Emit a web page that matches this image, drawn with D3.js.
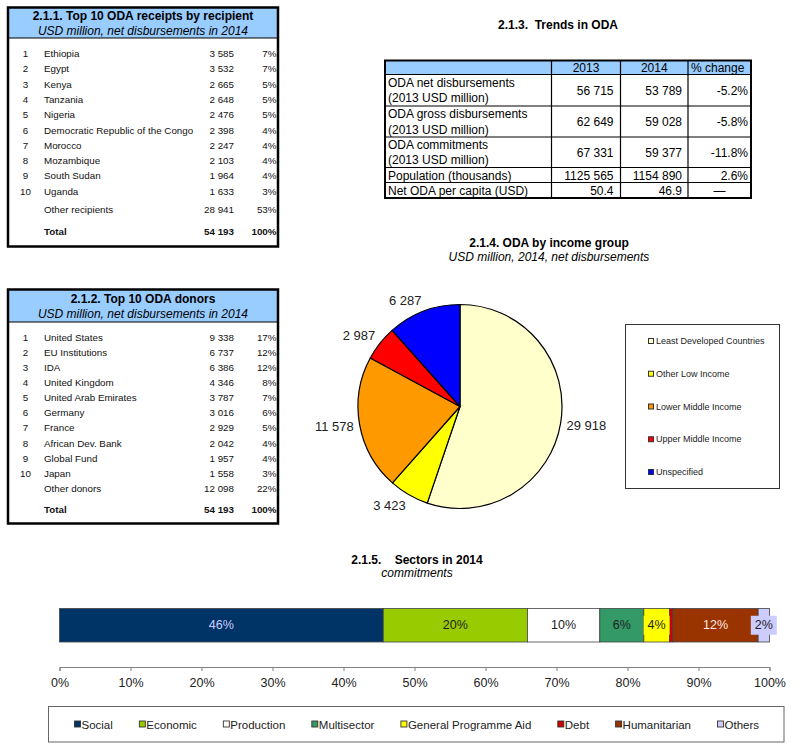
<!DOCTYPE html>
<html><head><meta charset="utf-8">
<script src="https://cdn.jsdelivr.net/npm/d3@7"></script>
<style>body{margin:0;background:#fff}svg{display:block;font-family:"Liberation Sans",Arial,sans-serif}</style>
</head><body><svg id="c" width="800" height="750"></svg>
<script>
// ---------- DATA ----------
const recipientNames = ["Ethiopia","Egypt","Kenya","Tanzania","Nigeria","Democratic Republic of the Congo","Morocco","Mozambique","South Sudan","Uganda"];
const recipientValues = [3585,3532,2665,2648,2476,2398,2247,2103,1964,1633];
const recipientPct = [7,7,5,5,5,4,4,4,4,3];
const otherRecipients = [28941, 53];

const donorNames = ["United States","EU Institutions","IDA","United Kingdom","United Arab Emirates","Germany","France","African Dev. Bank","Global Fund","Japan"];
const donorValues = [9338,6737,6386,4346,3787,3016,2929,2042,1957,1558];
const donorPct = [17,12,12,8,7,6,5,4,4,3];
const otherDonors = [12098, 22];
const totalOda = [54193, 100];

const trendColumns = ["2013","2014","% change"];
const trendLabels = [["ODA net disbursements","(2013 USD million)"],["ODA gross disbursements","(2013 USD million)"],["ODA commitments","(2013 USD million)"],["Population (thousands)"],["Net ODA per capita (USD)"]];
const trend2013 = ["56 715","62 649","67 331","1125 565","50.4"];
const trend2014 = ["53 789","59 028","59 377","1154 890","46.9"];
const trendChange = ["-5.2%","-5.8%","-11.8%","2.6%","\u2014"];

const incomeGroups = ["Least Developed Countries","Other Low Income","Lower Middle Income","Upper Middle Income","Unspecified"];
const incomeValues = [29918,3423,11578,2987,6287];
const incomeColors = ["#ffffcc","#ffff00","#ff9900","#ff0000","#0000ff"];

const sectors = ["Social","Economic","Production","Multisector","General Programme Aid","Debt","Humanitarian","Others"];
const sectorShares = [45.6,20.3,10.2,6.2,3.6,0.5,12.0,1.6];
const sectorColors = ["#003366","#99cc00","#ffffff","#339966","#ffff00","#cc0000","#993300","#ccccff"];
const sectorLabelColors = ["#ccccff","#222","#222","#222","#222","#222","#ffe8e0","#222"];
const axisTicks = [0,10,20,30,40,50,60,70,80,90,100];

// ---------- HELPERS ----------
const svg = d3.select("#c");
svg.append("rect").attr("width",800).attr("height",750).attr("fill","#fff");
const fmt = v => d3.format(",")(v).replace(/,/g," ");
const HEAD = "#99ccff";

function topTable(cfg){
  const g = svg.append("g");
  g.append("rect").attr("x",cfg.x).attr("y",cfg.y).attr("width",cfg.w).attr("height",cfg.headerH).attr("fill",HEAD);
  g.append("line").attr("x1",cfg.x).attr("x2",cfg.x+cfg.w).attr("y1",cfg.y+cfg.headerH).attr("y2",cfg.y+cfg.headerH).attr("stroke","#000").attr("stroke-width",1.2);
  g.append("rect").attr("x",cfg.x).attr("y",cfg.y).attr("width",cfg.w).attr("height",cfg.h).attr("fill","none").attr("stroke","#000").attr("stroke-width",2.5);
  const cx = cfg.x + cfg.w/2;
  g.append("text").attr("x",cx).attr("y",cfg.titleY).attr("text-anchor","middle").attr("dominant-baseline","central")
    .attr("font-size",12).attr("font-weight","bold").text(cfg.title);
  g.append("text").attr("x",cx).attr("y",cfg.titleY+15).attr("text-anchor","middle").attr("dominant-baseline","central")
    .attr("font-size",12).attr("font-style","italic").text(cfg.subtitle);
  const y = d3.scaleLinear().domain([0,9]).range([cfg.rowY0, cfg.rowY0 + 9*cfg.rowStep]);
  const rows = g.selectAll("g.row").data(cfg.names).join("g").attr("class","row")
    .attr("transform",(d,i)=>`translate(0,${y(i)})`).attr("font-size",9.8).attr("fill","#111");
  rows.append("text").attr("x",25.5).attr("text-anchor","middle").attr("dominant-baseline","central").text((d,i)=>i+1);
  rows.append("text").attr("x",44).attr("dominant-baseline","central").text(d=>d);
  rows.append("text").attr("x",234).attr("text-anchor","end").attr("dominant-baseline","central").text((d,i)=>fmt(cfg.values[i]));
  rows.append("text").attr("x",276.5).attr("text-anchor","end").attr("dominant-baseline","central").text((d,i)=>cfg.pct[i]+"%");
  const extra = [
    {label:cfg.otherLabel, v:cfg.other[0], p:cfg.other[1], y:cfg.otherY, bold:false},
    {label:"Total", v:totalOda[0], p:totalOda[1], y:cfg.totalY, bold:true}];
  const ex = g.selectAll("g.ex").data(extra).join("g").attr("class","ex")
    .attr("transform",d=>`translate(0,${d.y})`).attr("font-size",9.8).attr("fill","#111")
    .attr("font-weight",d=>d.bold?"bold":"normal");
  ex.append("text").attr("x",44).attr("dominant-baseline","central").text(d=>d.label);
  ex.append("text").attr("x",234).attr("text-anchor","end").attr("dominant-baseline","central").text(d=>fmt(d.v));
  ex.append("text").attr("x",276.5).attr("text-anchor","end").attr("dominant-baseline","central").text(d=>d.p+"%");
}

topTable({x:8,y:7.5,w:270,h:239,headerH:30.5,titleY:16,title:"2.1.1. Top 10 ODA receipts by recipient",
  subtitle:"USD million, net disbursements in 2014",names:recipientNames,values:recipientValues,pct:recipientPct,
  otherLabel:"Other recipients",other:otherRecipients,rowY0:53.5,rowStep:15.3,otherY:209.5,totalY:231});
topTable({x:8,y:289.5,w:270,h:234,headerH:32.5,titleY:298.5,title:"2.1.2. Top 10 ODA donors",
  subtitle:"USD million, net disbursements in 2014",names:donorNames,values:donorValues,pct:donorPct,
  otherLabel:"Other donors",other:otherDonors,rowY0:337,rowStep:15.15,otherY:488.5,totalY:509});

// ---------- TRENDS TABLE ----------
(function(){
  const g = svg.append("g");
  g.append("text").attr("x",558).attr("y",25).attr("text-anchor","middle").attr("dominant-baseline","central")
    .attr("font-size",12).attr("font-weight","bold").attr("xml:space","preserve").text("2.1.3.  Trends in ODA");
  const colX = [385,551.5,620.5,688,751];
  const rowY = [60.5,74.5,106,137,167.5,182.5,198];
  g.append("rect").attr("x",colX[0]).attr("y",rowY[0]).attr("width",colX[4]-colX[0]).attr("height",rowY[1]-rowY[0]).attr("fill",HEAD);
  rowY.slice(1,-1).forEach(yy=>g.append("line").attr("x1",colX[0]).attr("x2",colX[4]).attr("y1",yy).attr("y2",yy).attr("stroke","#000").attr("stroke-width",1.2));
  colX.slice(1,-1).forEach(xx=>g.append("line").attr("x1",xx).attr("x2",xx).attr("y1",rowY[0]).attr("y2",rowY[6]).attr("stroke","#000").attr("stroke-width",1.2));
  g.append("rect").attr("x",colX[0]).attr("y",rowY[0]).attr("width",colX[4]-colX[0]).attr("height",rowY[6]-rowY[0])
    .attr("fill","none").attr("stroke","#000").attr("stroke-width",2);
  const hc = (rowY[0]+rowY[1])/2+0.5;
  g.append("text").attr("x",(colX[1]+colX[2])/2).attr("y",hc).attr("text-anchor","middle").attr("dominant-baseline","central").attr("font-size",12).text(trendColumns[0]);
  g.append("text").attr("x",(colX[2]+colX[3])/2).attr("y",hc).attr("text-anchor","middle").attr("dominant-baseline","central").attr("font-size",12).text(trendColumns[1]);
  g.append("text").attr("x",colX[3]+3).attr("y",hc).attr("dominant-baseline","central").attr("font-size",12).text(trendColumns[2]);
  trendLabels.forEach((lab,i)=>{
    const top=rowY[i+1], bot=rowY[i+2], mid=(top+bot)/2;
    if(lab.length===2){
      g.append("text").attr("x",colX[0]+3).attr("y",mid-7.5).attr("dominant-baseline","central").attr("font-size",12).text(lab[0]);
      g.append("text").attr("x",colX[0]+3).attr("y",mid+8).attr("dominant-baseline","central").attr("font-size",12).text(lab[1]);
    } else {
      g.append("text").attr("x",colX[0]+3).attr("y",mid+0.5).attr("dominant-baseline","central").attr("font-size",12).text(lab[0]);
    }
    g.append("text").attr("x",colX[2]-7).attr("y",mid+0.5).attr("text-anchor","end").attr("dominant-baseline","central").attr("font-size",12).text(trend2013[i]);
    g.append("text").attr("x",colX[3]-6).attr("y",mid+0.5).attr("text-anchor","end").attr("dominant-baseline","central").attr("font-size",12).text(trend2014[i]);
    const isDash = trendChange[i]==="\u2014";
    g.append("text").attr("x",isDash?(colX[3]+colX[4])/2:colX[4]-3).attr("y",mid+0.5).attr("text-anchor",isDash?"middle":"end").attr("dominant-baseline","central").attr("font-size",12).text(trendChange[i]);
  });
})();

// ---------- PIE ----------
(function(){
  const cx=460, cy=406.5, r=102;
  svg.append("text").attr("x",549).attr("y",243).attr("text-anchor","middle").attr("dominant-baseline","central")
    .attr("font-size",12).attr("font-weight","bold").text("2.1.4. ODA by income group");
  svg.append("text").attr("x",549).attr("y",257).attr("text-anchor","middle").attr("dominant-baseline","central")
    .attr("font-size",12).attr("font-style","italic").text("USD million, 2014, net disbursements");
  const g = svg.append("g").attr("transform",`translate(${cx},${cy})`);
  const arcs = d3.pie().sort(null).value(d=>d)(incomeValues);
  const arc = d3.arc().innerRadius(0).outerRadius(r);
  g.selectAll("path").data(arcs).join("path").attr("d",arc).attr("fill",(d,i)=>incomeColors[i])
    .attr("stroke","#000").attr("stroke-width",1.2).attr("stroke-linejoin","round");
  g.selectAll("text").data(arcs).join("text").each(function(d){
    const m=(d.startAngle+d.endAngle)/2, s=Math.sin(m), c=-Math.cos(m);
    const px=(r+6)*s, py=(r+6)*c+6*c;
    d3.select(this).attr("x",px).attr("y",py).attr("text-anchor",s>0.3?"start":s<-0.3?"end":"middle");
  }).attr("dominant-baseline","central").attr("font-size",13).attr("fill","#222").text(d=>fmt(d.data));
  const lg = svg.append("g");
  lg.append("rect").attr("x",625.5).attr("y",324.5).attr("width",154).attr("height",164).attr("fill","#fff").attr("stroke","#333").attr("stroke-width",1);
  const ly = d3.scalePoint().domain(incomeGroups).range([341,472]);
  const it = lg.selectAll("g.it").data(incomeGroups).join("g").attr("class","it").attr("transform",d=>`translate(0,${ly(d)})`);
  it.append("rect").attr("x",648.5).attr("y",-2.5).attr("width",5).attr("height",5).attr("fill",(d,i)=>incomeColors[i]).attr("stroke","#333").attr("stroke-width",1);
  it.append("text").attr("x",656).attr("dominant-baseline","central").attr("font-size",9).attr("fill","#222").text(d=>d);
})();

// ---------- SECTORS BAR ----------
(function(){
  svg.append("text").attr("x",417).attr("y",560).attr("text-anchor","middle").attr("dominant-baseline","central")
    .attr("font-size",12).attr("font-weight","bold").attr("xml:space","preserve").text("2.1.5.    Sectors in 2014");
  svg.append("text").attr("x",417).attr("y",573).attr("text-anchor","middle").attr("dominant-baseline","central")
    .attr("font-size",12).attr("font-style","italic").text("commitments");
  const x = d3.scaleLinear().domain([0,100]).range([59.5,769.5]);
  const y0=608.5, y1=642;
  let cum=0;
  const segs = sectorShares.map((v,i)=>{const s={name:sectors[i],v,start:cum,end:cum+v,i}; cum+=v; return s;});
  const g = svg.append("g");
  g.selectAll("rect").data(segs).join("rect").attr("x",d=>x(d.start)).attr("y",y0).attr("width",d=>x(d.end)-x(d.start))
    .attr("height",y1-y0).attr("fill",d=>sectorColors[d.i]).attr("stroke","#444").attr("stroke-width",0.8);
  const labs = segs.filter(d=>d.v>=1);
  const lg = g.selectAll("g.lab").data(labs).join("g").attr("class","lab")
    .attr("transform",d=>`translate(${(x(d.start)+x(d.end))/2},${(y0+y1)/2})`);
  lg.append("rect").attr("x",-13).attr("y",-9.5).attr("width",26).attr("height",19).attr("fill",d=>sectorColors[d.i])
    .attr("opacity",d=>(x(d.end)-x(d.start))<26?1:0);
  lg.append("text").attr("text-anchor","middle").attr("dominant-baseline","central").attr("font-size",12.5)
    .attr("fill",d=>sectorLabelColors[d.i]).text(d=>Math.round(d.v)+"%");
  const axis = d3.axisBottom(x).tickValues(axisTicks).tickFormat(d=>d+"%").tickSize(4).tickSizeOuter(4).tickPadding(7);
  const ga = svg.append("g").attr("transform","translate(0,667)").call(axis);
  ga.select(".domain").attr("stroke","#808080");
  ga.selectAll(".tick line").attr("stroke","#808080");
  ga.selectAll(".tick text").attr("font-size",12.5).attr("fill","#222").attr("font-family","Liberation Sans, Arial, sans-serif");
  const lb = svg.append("g");
  lb.append("rect").attr("x",48.5).attr("y",706.5).attr("width",735.5).attr("height",35.5).attr("fill","#fff").attr("stroke","#666").attr("stroke-width",1);
  let cx = 74.5;
  sectors.forEach((s,i)=>{
    lb.append("rect").attr("x",cx).attr("y",721).attr("width",6).attr("height",6).attr("fill",sectorColors[i]).attr("stroke","#333").attr("stroke-width",0.9);
    const t = lb.append("text").attr("x",cx+7).attr("y",724.5).attr("dominant-baseline","central").attr("font-size",11.5).attr("fill","#222").text(s);
    cx += 7 + t.node().getComputedTextLength() + 26.5;
  });
})();
</script></body></html>
